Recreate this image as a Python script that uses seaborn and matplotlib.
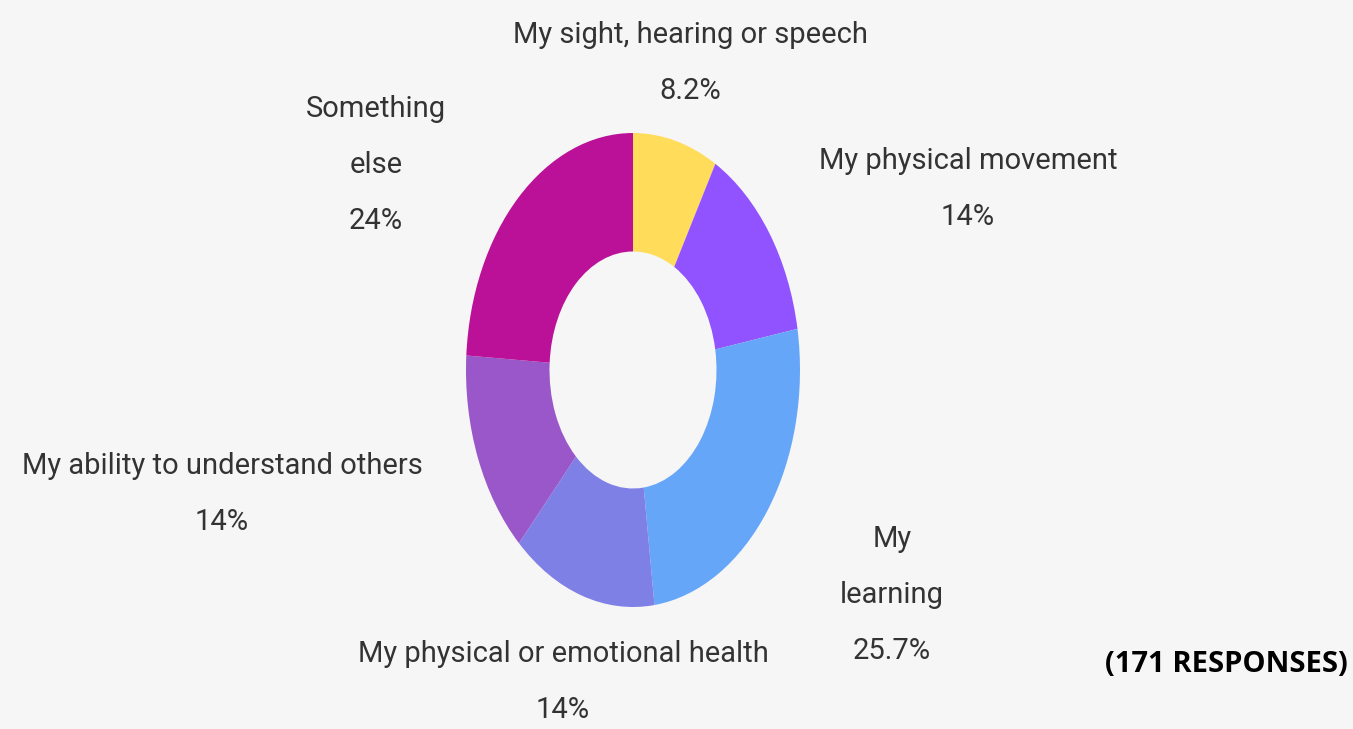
import matplotlib
matplotlib.use("agg")
import matplotlib.pyplot as plt
import seaborn as sns

labels = ["My sight, hearing or speech", "My physical movement", "My\nlearning",
          "My physical or emotional health", "My ability to understand others", "Something\nelse"]
values = [8.2, 14, 25.7, 14, 14, 24]
pct_text = ["8.2%", "14%", "25.7%", "14%", "14%", "24%"]
colors = ["#FFDC5A", "#9153FF", "#66A6F9", "#7F80E5", "#9957C9", "#BA1198"]
responses = "(171 RESPONSES)"

sns.set_theme(style="white")
plt.rcParams["font.family"] = ["Roboto", "DejaVu Sans"]

W, H = 1353, 729
fig = plt.figure(figsize=(W / 100, H / 100), dpi=100)
fig.patch.set_facecolor("#F6F6F6")

# donut axes, stretched like the original
cx, cy, rx, ry = 633, 370, 167, 237
ax = fig.add_axes([(cx - rx) / W, 1 - (cy + ry) / H, 2 * rx / W, 2 * ry / H])
ax.pie(values, colors=colors, startangle=90, counterclock=False,
       wedgeprops=dict(width=0.5, linewidth=0))
ax.set_aspect("auto")
ax.set_xlim(-1, 1)
ax.set_ylim(-1, 1)
ax.axis("off")

# label anchor points (pixels, top-left of the image)
label_pos = [(690, 63), (968, 189), (892, 595), (563, 682), (222, 494), (376, 165)]
for lab, pct, (x, y) in zip(labels, pct_text, label_pos):
    fig.text(x / W, 1 - y / H, lab + "\n" + pct, ha="center", va="center",
             fontsize=21, color="#333333", linespacing=2.26)

fig.text(1226 / W, 1 - 665 / H, responses, ha="center", va="center",
         fontsize=21, fontweight="bold", color="black",
         family=["Open Sans", "DejaVu Sans"])

fig.savefig("out.png", dpi=100, facecolor=fig.get_facecolor())
